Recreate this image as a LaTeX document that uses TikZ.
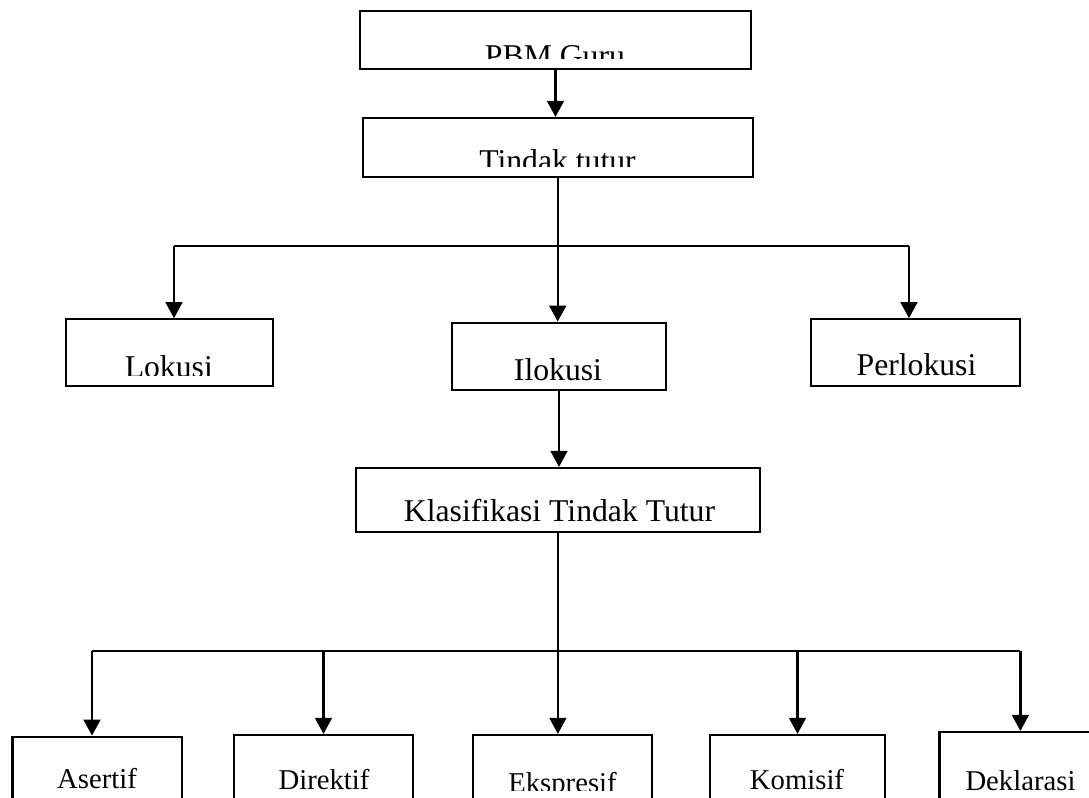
\documentclass[tikz,border=0pt]{standalone}
\usepackage{fontspec}
\setmainfont{Liberation Serif}
\usetikzlibrary{arrows.meta}
\tikzset{
  box/.style={draw=black, line width=1.1pt, inner sep=0pt},
  link/.style={draw=black, line width=1.1pt},
  arr/.style={link, -{Triangle[length=8pt,width=8.4pt]}},
  big/.style={font=\fontsize{15.85}{19}\selectfont, inner sep=0pt, anchor=base},
  small/.style={font=\fontsize{14.35}{17}\selectfont, inner sep=0pt, anchor=base},
}
\begin{document}
\begin{tikzpicture}[x=0.5pt,y=-0.5pt]
  \clip (0,0) rectangle (1089,798);

  % boxes
  \node[box,minimum width=195.5pt,minimum height=29pt] (pbm) at (555.5,40) {};
  \node[box,minimum width=195pt,minimum height=29.5pt] (tindak) at (557.7,147.5) {};
  \node[box,minimum width=103.3pt,minimum height=33.2pt] (lokusi) at (169.3,352.5) {};
  \node[box,minimum width=107pt,minimum height=33.7pt] (ilokusi) at (559,356.4) {};
  \node[box,minimum width=104.7pt,minimum height=33.2pt] (perlokusi) at (915.4,352.5) {};
  \node[box,minimum width=202.2pt,minimum height=32pt] (klas) at (557.9,500) {};
  \node[box,minimum width=84.8pt,minimum height=40pt] (asertif) at (97.3,776.7) {};
  \node[box,minimum width=89.5pt,minimum height=40pt] (direktif) at (323.5,775) {};
  \node[box,minimum width=89.5pt,minimum height=40pt] (ekspresif) at (562.2,775) {};
  \node[box,minimum width=87.5pt,minimum height=40pt] (komisif) at (797.5,775) {};
  \node[box,minimum width=80.3pt,minimum height=40pt] (deklarasi) at (1019.8,772) {};

  % labels (some are cut off at the bottom, as in the original)
  \begin{scope}
    \clip (360,11) rectangle (751,58.3);
    \node[big] (pbmtxt) at (555,66) {PBM Guru};
  \end{scope}
  \begin{scope}
    \clip (363,118) rectangle (753,166.7);
    \node[big] (tindaktxt) at (557.5,171) {Tindak tutur};
  \end{scope}
  \begin{scope}
    \clip (66,319) rectangle (272,375.7);
    \node[big] (lokusitxt) at (168.8,377) {Lokusi};
  \end{scope}
  \begin{scope}
    \clip (452,323) rectangle (666,380);
    \node[big] (ilokusitxt) at (558,380.5) {Ilokusi};
  \end{scope}
  \node[big] (perlokusitxt) at (916.5,375) {Perlokusi};
  \node[big] (klastxt) at (559.5,521) {Klasifikasi Tindak Tutur};
  \node[small] (asertiftxt) at (97,788.3) {Asertif};
  \node[small] (direktiftxt) at (324,789) {Direktif};
  \begin{scope}
    \clip (473,735) rectangle (652,790);
    \node[small] (ekspresiftxt) at (562.5,792) {Ekspresif};
  \end{scope}
  \node[small] (komisiftxt) at (797,789) {Komisif};
  \node[small] (deklarasitxt) at (1020.5,790) {Deklarasi};

  % connectors
  \coordinate (busL) at (174,245.7);
  \coordinate (busR) at (909,245.7);
  \coordinate (busA) at (92,650.7);
  \coordinate (busD) at (1020.4,650.7);

  \draw[arr] (pbm.south) -- (pbm.south |- tindak.north);
  \draw[arr] (tindak.south) -- (tindak.south |- ilokusi.north);
  \draw[link] (busL) -- (busR);
  \draw[arr] (busL) -- (busL |- lokusi.north);
  \draw[arr] (busR) -- (busR |- perlokusi.north);
  \draw[arr] (ilokusi.south) -- (ilokusi.south |- klas.north);

  \draw[arr] (klas.south) -- (klas.south |- ekspresif.north);
  \draw[link] (busA) -- (busD);
  \draw[arr] (busA) -- (busA |- asertif.north);
  \draw[arr] (direktif.north |- busA) -- (direktif.north);
  \draw[arr] (komisif.north |- busA) -- (komisif.north);
  \draw[arr] (busD) -- (busD |- deklarasi.north);
\end{tikzpicture}
\end{document}
